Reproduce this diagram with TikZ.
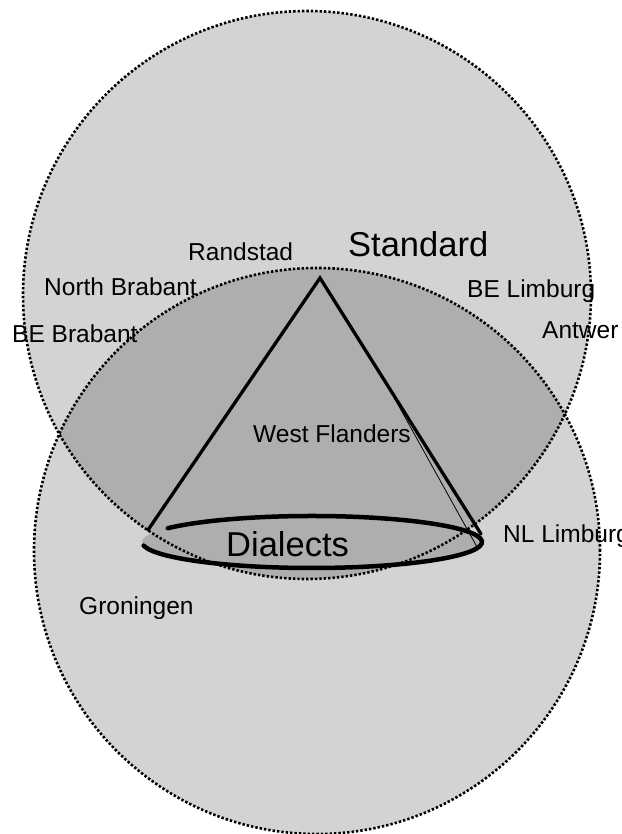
\documentclass[tikz,border=0pt]{standalone}
\usepackage{fontspec}
\setmainfont{Liberation Sans}
\usepackage{xcolor}
\definecolor{OuterFill}{HTML}{D3D3D3}
\definecolor{LensFill}{HTML}{AEAEAE}
\usetikzlibrary{calc}

\begin{document}
\begin{tikzpicture}[
    x=1pt, y=1pt,
    zone/.style={
        draw=black,
        line width=2.6pt,
        dash pattern=on 2.4pt off 2pt
    },
    conel/.style={
        draw=black,
        line width=3.3pt,
        line cap=round
    },
    place/.style={
        font=\fontsize{24.5}{28}\selectfont,
        inner sep=0pt,
        anchor=base west
    },
    tier/.style={
        font=\fontsize{34.5}{40}\selectfont,
        inner sep=0pt,
        anchor=base west
    }
]

\useasboundingbox (0,0) rectangle (621,834);
\clip (0,0) rectangle (621,834);

% ---------------------------------------------------------
% Cerchi: standard sopra, dialetti sotto
% ---------------------------------------------------------

\coordinate (stdc)  at (307,539);
\coordinate (dialc) at (317,283);

\fill[OuterFill] (stdc)  circle[radius=284];
\fill[OuterFill] (dialc) circle[radius=283];

\begin{scope}
\clip (stdc) circle[radius=284];
\fill[LensFill] (dialc) circle[radius=283];
\end{scope}

% ---------------------------------------------------------
% Cono
% ---------------------------------------------------------

\coordinate (apex)  at (320,556);
\coordinate (baseL) at (148,304);
\coordinate (baseR) at (481,300);
\coordinate (thinA) at (386,451);
\coordinate (thinB) at (477,287);
\coordinate (ring)  at (312,292);

\fill[LensFill] (ring) ellipse[x radius=170, y radius=26];

\draw[zone] (stdc)  circle[radius=284];
\draw[zone] (dialc) circle[radius=283];

\draw[conel] (baseL) -- (apex) -- (baseR);
\draw[black, line width=0.8pt] (thinA) -- (thinB);

\draw[conel, line width=4.5pt]
($(ring)+(188:170 and 26)$)
arc[start angle=188, end angle=508, x radius=170, y radius=26];

% ---------------------------------------------------------
% Etichette
% ---------------------------------------------------------

\node[tier]  (standard) at (348,577) {Standard};
\node[tier]  (dialects) at (226,277) {Dialects};

\node[place] (randstad) at (188,573) {Randstad};
\node[place] (nbrab)    at (44,538)  {North Brabant};
\node[place] (belimb)   at (467,536) {BE Limburg};
\node[place] (bebrab)   at (12,491)  {BE Brabant};
\node[place] (antw)     at (542,495) {Antwer};
\node[place] (wfland)   at (253,391) {West Flanders};
\node[place] (nllimb)   at (503,291) {NL Limburg};
\node[place] (gron)     at (79,219)  {Groningen};

\end{tikzpicture}
\end{document}
